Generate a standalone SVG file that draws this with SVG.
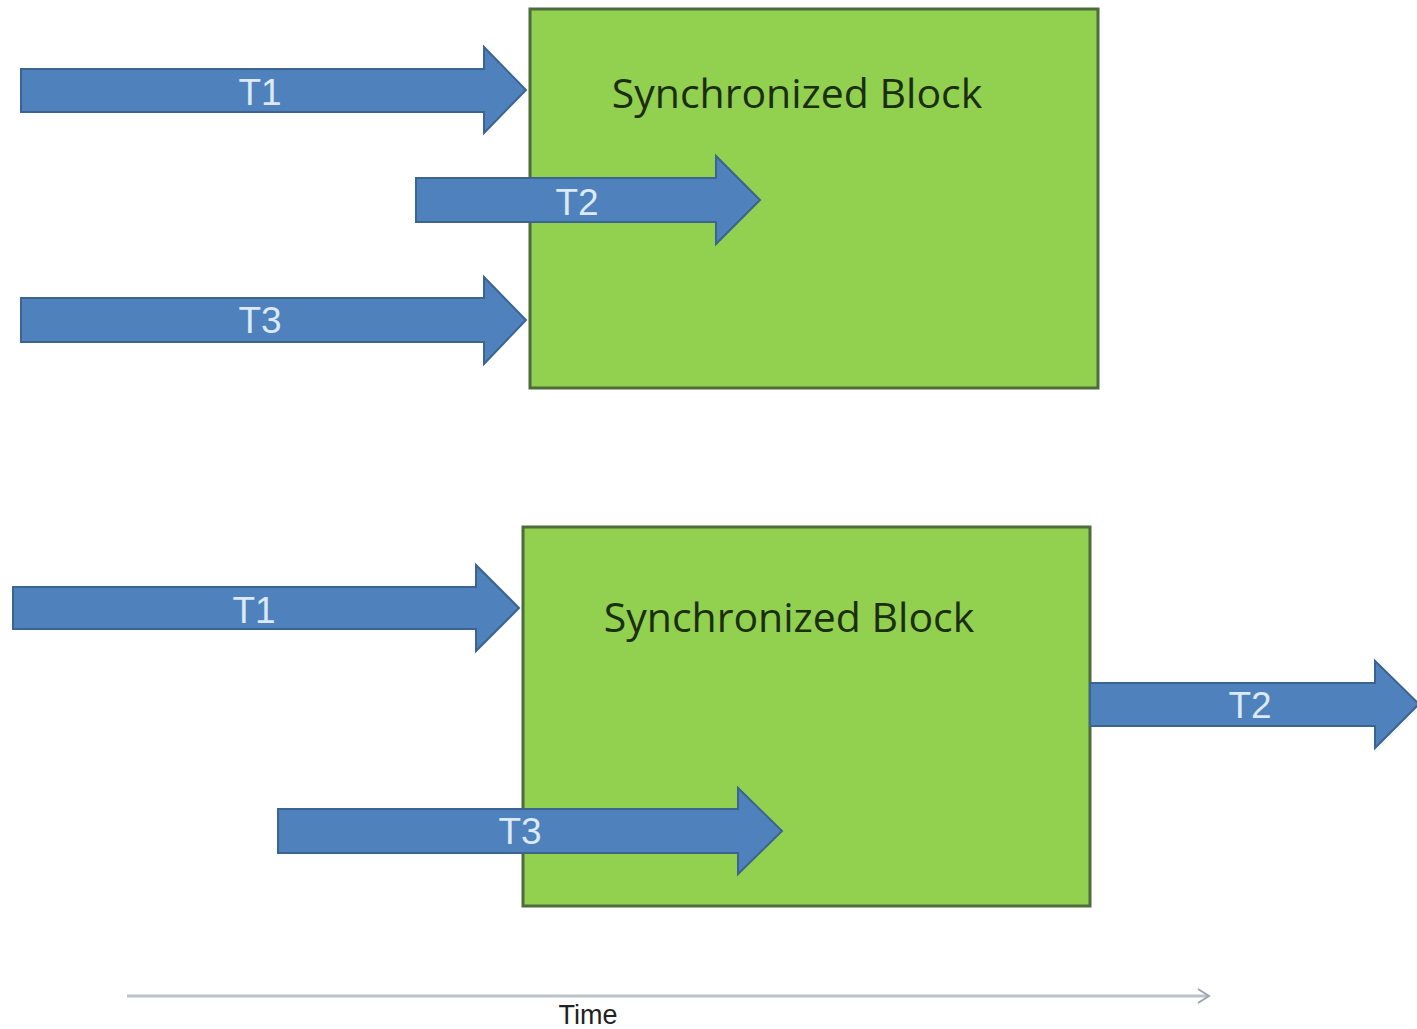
<svg xmlns="http://www.w3.org/2000/svg" width="1417" height="1029" viewBox="0 0 1417 1029">
<style>
.box{fill:#92d050;stroke:#4d6b3d;stroke-width:3}
.arrow{fill:#4f81bd;stroke:#3b6590;stroke-width:2}
.lbl{font-family:"Liberation Sans",Arial,sans-serif;font-size:37px;fill:#dbe9f8;text-anchor:middle;dominant-baseline:central}
.title{font-family:"Open Sans","Liberation Sans",sans-serif;font-size:41px;fill:#1b2e12;text-anchor:middle;dominant-baseline:central}
.time{font-family:"Liberation Sans",Arial,sans-serif;font-size:27px;fill:#222;text-anchor:middle}
</style>
<rect width="1417" height="1029" fill="#ffffff"/>
<g id="box-top">
<rect class="box" x="530" y="9" width="568" height="379"/>
<text class="title" x="797" y="92">Synchronized Block</text>
</g>
<g id="box-bottom">
<rect class="box" x="523" y="527" width="567" height="379"/>
<text class="title" x="789" y="616">Synchronized Block</text>
</g>
<g id="connectors">
<g id="t1-top">
<path class="arrow" d="M21,69 H484 V47 L526,90 L484,133 V112 H21 Z"/>
<text class="lbl" x="260" y="92">T1</text>
</g>
<g id="t2-top">
<path class="arrow" d="M416,178 H716 V156 L760,200 L716,244 V222 H416 Z"/>
<text class="lbl" x="577" y="202">T2</text>
</g>
<g id="t3-top">
<path class="arrow" d="M21,298 H484 V277 L526,320 L484,364 V342 H21 Z"/>
<text class="lbl" x="260" y="320">T3</text>
</g>
<g id="t1-bottom">
<path class="arrow" d="M13,587 H476 V565 L519,608 L476,651 V629 H13 Z"/>
<text class="lbl" x="254" y="610">T1</text>
</g>
<g id="t2-bottom">
<path class="arrow" d="M1090,683 H1375 V661 L1419,704 L1375,748 V726 H1090 Z"/>
<text class="lbl" x="1250" y="705">T2</text>
</g>
<g id="t3-bottom">
<path class="arrow" d="M278,809 H738 V788 L782,831 L738,874 V853 H278 Z"/>
<text class="lbl" x="520" y="831">T3</text>
</g>
<g id="time-axis">
<line x1="127" y1="996" x2="1208" y2="996" stroke="#b9c3ca" stroke-width="3"/>
<path d="M1198,989 L1209,996 L1198,1003" fill="none" stroke="#9aa7b0" stroke-width="2"/>
<text class="time" x="588" y="1024">Time</text>
</g>
</g>
</svg>
